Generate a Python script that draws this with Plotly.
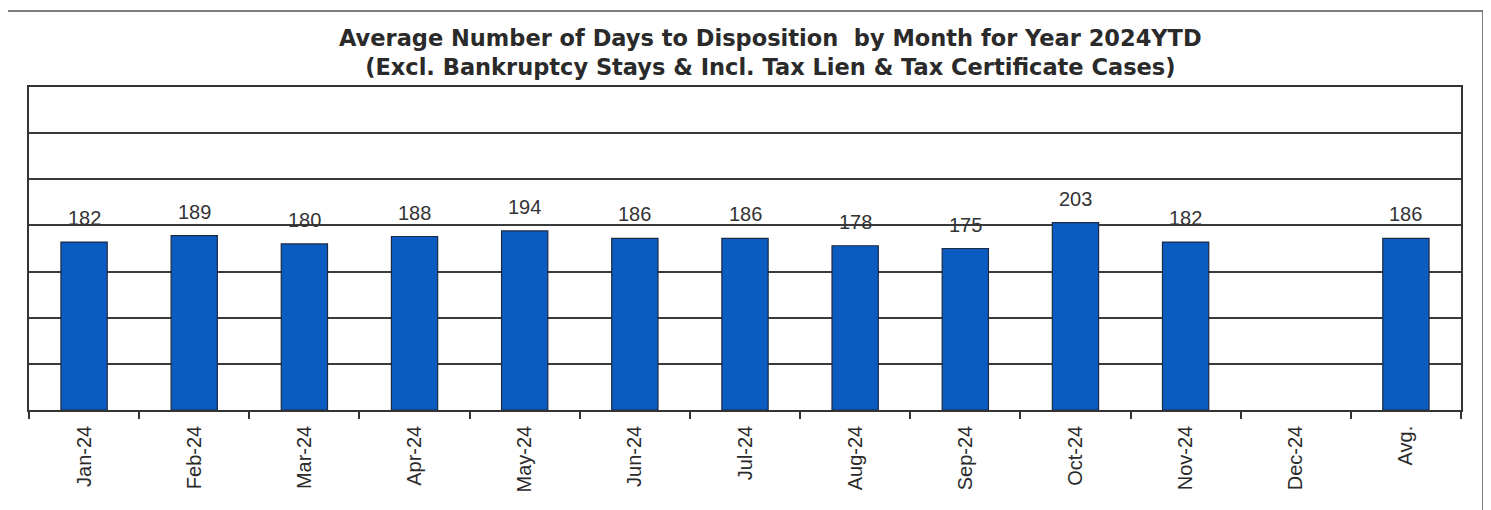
import plotly.graph_objects as go

categories = ["Jan-24", "Feb-24", "Mar-24", "Apr-24", "May-24", "Jun-24", "Jul-24",
              "Aug-24", "Sep-24", "Oct-24", "Nov-24", "Dec-24", "Avg."]
days = [182, 189, 180, 188, 194, 186, 186, 178, 175, 203, 182, None, 186]
y_ticks = [0, 50, 100, 150, 200, 250, 300, 350]

OFF = 8  # page body margin
W, H = 1491 - OFF, 510 - OFF
L, T = 29 - OFF, 87 - OFF
R = W - (1461 - OFF)
B = H - (410 - OFF)
pw, ph = W - L - R, H - T - B


def px_x(x):
    return (x - OFF - L) / pw


def px_y(y):
    return (H - B - (y - OFF)) / ph


fig = go.Figure()
fig.add_trace(go.Bar(
    x=categories, y=days, width=0.42,
    marker=dict(color="#0b5cc0", line=dict(color="#1c2a44", width=1.2)),
    hoverinfo="x+y",
))

for c, v in zip(categories, days):
    if v is None:
        continue
    fig.add_annotation(x=c, y=v, text=str(v), showarrow=False, yanchor="bottom",
                       yshift=11, font=dict(family="Arial, Liberation Sans", size=20, color="#333333"))

title = ("<b>Average Number of Days to Disposition&nbsp; by Month for Year 2024YTD</b><br>"
         "<b>(Excl. Bankruptcy Stays &amp; Incl. Tax Lien &amp; Tax Certificate Cases)</b>")
fig.add_annotation(xref="paper", yref="paper", x=px_x(770), y=px_y(52),
                   text=title, showarrow=False, yanchor="middle", xanchor="center",
                   font=dict(family="DejaVu Sans", size=22.5, color="#2a2a2a"))

# outer frame
fig.add_shape(type="rect", xref="paper", yref="paper",
              x0=px_x(3), x1=px_x(1483),
              y0=px_y(530), y1=px_y(11),
              line=dict(color="#555555", width=1.5), layer="below")

fig.update_layout(
    width=W, height=H,
    margin=dict(l=L, r=R, t=T, b=B),
    paper_bgcolor="white", plot_bgcolor="white",
    showlegend=False, bargap=0.58,
    font=dict(family="Arial, Liberation Sans", color="#2a2a2a"),
)
fig.update_xaxes(
    type="category", tickangle=-90, tickson="boundaries",
    ticks="outside", ticklen=7, tickwidth=1.5, tickcolor="#333333",
    ticklabelstandoff=6,
    showline=True, linecolor="#333333", linewidth=1.5, mirror=True,
    showgrid=False, tickfont=dict(family="Arial, Liberation Sans", size=20, color="#2a2a2a"),
)
fig.update_yaxes(
    range=[0, 350], tickvals=y_ticks, showticklabels=False,
    showgrid=True, gridcolor="#3a3a3a", gridwidth=1.5,
    showline=True, linecolor="#333333", linewidth=1.5, mirror=True,
    zeroline=False, ticks="",
)

fig.write_html("out.html")
